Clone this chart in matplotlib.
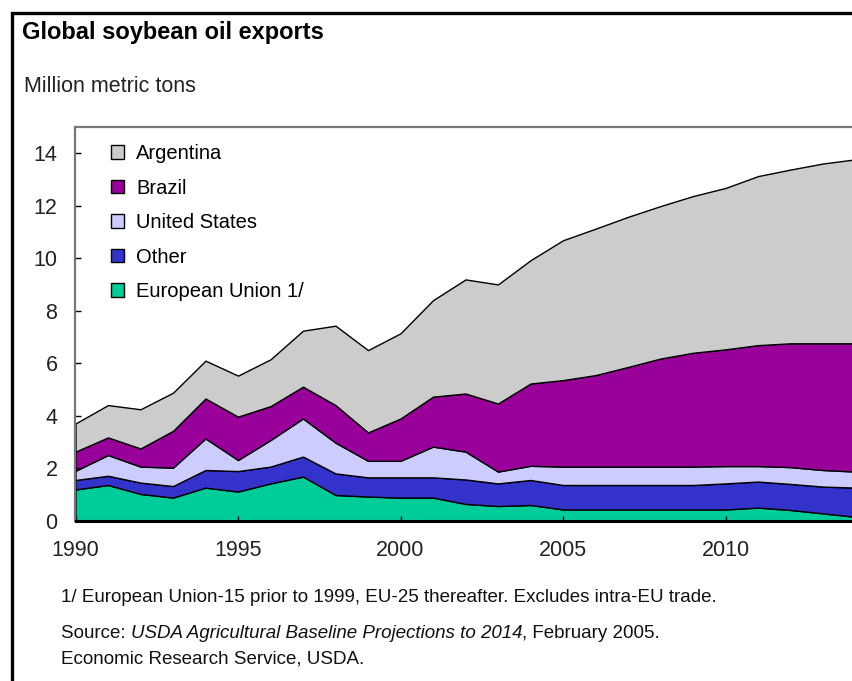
import matplotlib
matplotlib.use("Agg")
import matplotlib.pyplot as plt
from matplotlib.patches import Patch, Rectangle
import numpy as np

years = list(range(1990, 2015))

# million metric tons (bottom layer first)
eu = [1.20, 1.37, 1.03, 0.89, 1.27, 1.12, 1.43, 1.69, 0.99, 0.93, 0.89, 0.89, 0.65,
      0.57, 0.61, 0.44, 0.44, 0.44, 0.44, 0.44, 0.44, 0.51, 0.42, 0.29, 0.16]
other = [0.36, 0.35, 0.43, 0.44, 0.67, 0.78, 0.64, 0.76, 0.82, 0.73, 0.77, 0.77, 0.93,
         0.86, 0.95, 0.93, 0.93, 0.93, 0.93, 0.93, 0.99, 0.99, 0.99, 1.02, 1.11]
united_states = [0.35, 0.79, 0.61, 0.70, 1.20, 0.42, 1.01, 1.45, 1.17, 0.63, 0.63, 1.17, 1.06,
                 0.45, 0.54, 0.70, 0.70, 0.70, 0.70, 0.70, 0.66, 0.59, 0.64, 0.63, 0.61]
brazil = [0.73, 0.67, 0.69, 1.40, 1.52, 1.65, 1.29, 1.21, 1.43, 1.08, 1.61, 1.90, 2.21,
          2.59, 3.13, 3.29, 3.48, 3.79, 4.11, 4.33, 4.44, 4.60, 4.71, 4.82, 4.88]
argentina = [1.07, 1.23, 1.49, 1.45, 1.44, 1.56, 1.78, 2.13, 3.02, 3.13, 3.24, 3.67, 4.34,
             4.53, 4.69, 5.32, 5.57, 5.71, 5.80, 5.96, 6.14, 6.43, 6.61, 6.84, 7.00]

labels = ["European Union 1/", "Other", "United States", "Brazil", "Argentina"]
colors = ["#00cc99", "#3333cc", "#ccccff", "#990099", "#cccccc"]

plt.rcParams["font.family"] = ["Liberation Sans", "DejaVu Sans"]

W, H = 853, 681
fig = plt.figure(figsize=(W / 100, H / 100), dpi=100)

# axes box in pixels
left, right, bottom, top = 75.5, 855.5, 521.0, 126.7
ax = fig.add_axes([left / W, 1 - bottom / H, (right - left) / W, (bottom - top) / H])

ax.stackplot(years, eu, other, united_states, brazil, argentina,
             colors=colors, edgecolor="black", linewidth=1.0)

ax.set_xlim(1990, 2014)
ax.set_ylim(0, 15)
ax.set_yticks(np.arange(0, 15, 2))
ax.set_xticks([1990, 1995, 2000, 2005, 2010])

ax.tick_params(axis="y", direction="in", length=4.5, width=1, labelsize=15.5, pad=13, colors="black")
ax.tick_params(axis="x", direction="in", length=3.5, width=1, labelsize=15.5, pad=14, colors="black")
ax.tick_params(axis="x", labelcolor="#222222")
ax.tick_params(axis="y", labelcolor="#222222")

for side in ("top", "left"):
    ax.spines[side].set_color("#777777")
    ax.spines[side].set_linewidth(1.6)
ax.spines["bottom"].set_color("black")
ax.spines["bottom"].set_linewidth(2.2)
ax.spines["right"].set_visible(False)

handles = [Patch(facecolor=c, edgecolor="black", linewidth=1.0) for c in colors][::-1]
ax.legend(handles, labels[::-1], loc="upper left", bbox_to_anchor=(111 / W, 1 - 144 / H),
          bbox_transform=fig.transFigure, frameon=False, fontsize=14.5,
          handlelength=0.65, handleheight=0.65, handletextpad=0.6, labelspacing=0.77,
          borderpad=0, borderaxespad=0)

# outer black frame (right and bottom edges fall outside the picture)
fig.add_artist(Rectangle((12.5 / W, -0.5), 1.2, 0.5 + (1 - 13 / H), transform=fig.transFigure,
                         fill=False, edgecolor="black", linewidth=2.4, clip_on=False))

fig.text(22 / W, 1 - 33 / H, "Global soybean oil exports", fontsize=17, fontweight="bold",
         ha="left", va="center")
fig.text(24 / W, 1 - 86 / H, "Million metric tons", fontsize=15.5, ha="left", va="center",
         color="#222222")

fs = 13.5
fig.text(61 / W, 1 - 597 / H,
         "1/ European Union-15 prior to 1999, EU-25 thereafter. Excludes intra-EU trade.",
         fontsize=fs, ha="left", va="center", color="#111111")

src = fig.text(61 / W, 1 - 634 / H, "Source: ", fontsize=fs, ha="left", va="center",
               color="#111111")
ital = fig.text(0, 0, "USDA Agricultural Baseline Projections to 2014", fontsize=fs,
                style="italic", color="#111111")
rest = fig.text(0, 0, ", February 2005.", fontsize=fs, color="#111111")
fig.canvas.draw()
renderer = fig.canvas.get_renderer()
bb = src.get_window_extent(renderer)
ital.set_position((bb.x1 / W, 1 - 634 / H))
ital.set_va("center")
fig.canvas.draw()
bb2 = ital.get_window_extent(renderer)
rest.set_position((bb2.x1 / W, 1 - 634 / H))
rest.set_va("center")

fig.text(61 / W, 1 - 659 / H, "Economic Research Service, USDA.", fontsize=fs,
         ha="left", va="center", color="#111111")

fig.savefig("out.png", dpi=100)
